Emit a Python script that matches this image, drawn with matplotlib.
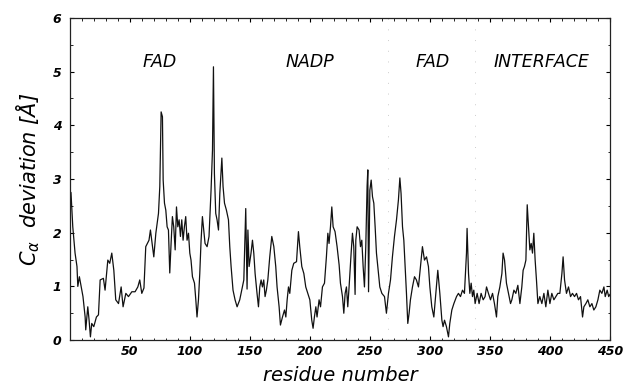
import matplotlib
matplotlib.use("Agg")
import matplotlib.pyplot as plt
from matplotlib.ticker import MultipleLocator

# residue numbers / C-alpha deviations (one line = 10 points)
residue_a = [0, 1, 2.5, 4.4, 6, 6.7, 8, 9.7, 11, 12.8,
             13.3, 15, 16.1, 17.2, 18.3, 20, 22.2, 23.9, 25.3, 28,
             29.4, 31.7, 33.3, 35, 36.7, 38.3, 40.6, 42.8, 44.4, 46.7,
             48.9, 51.7, 54.4, 56.7, 58.3, 60, 61.8, 63.3, 66, 67.2,
             70, 71.7, 73.9, 75, 76.1, 77.2, 77.8, 78.9, 80, 81.1,
             82.2, 83.3, 84.4, 85.5, 86.6, 87.8, 88.9, 90, 91.1, 92.2,
             93.3, 94.4, 95.5, 96.6, 97.7, 98.9, 100, 101, 102.2, 103.9,
             105, 106, 107.2, 108.3, 109.4, 110.5, 111.6, 112.7, 114.4, 116]
deviation_a = [2.5, 2.75, 2.11, 1.62, 1.37, 1.0, 1.18, 0.97, 0.81, 0.43,
               0.19, 0.62, 0.37, 0.06, 0.31, 0.25, 0.43, 0.47, 1.12, 1.15,
               0.93, 1.49, 1.43, 1.62, 1.30, 0.75, 0.68, 0.99, 0.62, 0.87,
               0.81, 0.9, 0.9, 0.99, 1.12, 0.87, 0.97, 1.74, 1.86, 2.05,
               1.55, 1.99, 2.36, 2.86, 4.25, 4.16, 2.98, 2.55, 2.42, 2.11,
               2.05, 1.25, 1.80, 2.30, 2.11, 1.68, 2.48, 2.11, 2.24, 1.93,
               2.24, 1.86, 2.11, 2.30, 1.86, 1.99, 1.62, 1.49, 1.18, 1.06,
               0.75, 0.43, 0.75, 1.24, 1.86, 2.30, 2.05, 1.80, 1.74, 1.93]

residue_b = [117.7, 118.9, 119.7, 120.5, 121.6, 122.7, 123.9, 125, 126.7, 127.7,
             128.9, 130.5, 132.2, 133.3, 134.4, 136, 137.7, 139.4, 141.6, 143.3,
             145, 146.6, 147.7, 148.4, 149.4, 151, 152.2, 153.3, 154.4, 156,
             157.2, 158.3, 159.4, 160.5, 161.6, 162.7, 163.8, 165, 166.6, 168.3,
             170, 171.6, 172.7, 174.4, 175.5, 177.2, 178.9, 180, 181.1, 182.2,
             183.3, 185, 186.6, 188.9, 190.5, 191.6, 193.3, 195, 196.6, 198.3,
             200, 201.6, 202.7, 203.8, 205, 206, 207.7, 208.9, 210.5, 212.2,
             213.8, 215, 216, 217.2, 218.3, 219.4, 221, 222.7, 224.4, 225.5]
deviation_b = [2.79, 3.54, 5.09, 3.1, 2.36, 2.24, 2.05, 2.73, 3.39, 2.86,
               2.55, 2.42, 2.24, 1.74, 1.37, 0.93, 0.75, 0.62, 0.75, 0.93,
               1.12, 2.45, 0.95, 2.05, 1.37, 1.62, 1.86, 1.62, 1.24, 0.87,
               0.62, 0.99, 1.12, 0.99, 1.12, 0.81, 0.93, 1.12, 1.55, 1.93,
               1.74, 1.37, 0.99, 0.62, 0.28, 0.43, 0.56, 0.43, 0.75, 0.99,
               0.87, 1.30, 1.43, 1.46, 2.02, 1.74, 1.37, 1.24, 0.99, 0.87,
               0.75, 0.37, 0.22, 0.43, 0.62, 0.43, 0.75, 0.62, 0.99, 1.06,
               1.55, 1.99, 1.80, 2.11, 2.48, 2.11, 2.02, 1.74, 1.40, 1.06]

residue_c = [227.2, 228.3, 229.4, 230.5, 231.6, 232.7, 234.4, 235.5, 236.6, 237.7,
             238.3, 239.4, 241, 242.2, 243.3, 244.4, 245.5, 246.6, 247.7, 248.3,
             248.9, 250, 251.1, 252.2, 253.3, 254.4, 255.5, 256.6, 258.3, 260,
             262.2, 263.8, 265.5, 267.2, 268.8, 270.5, 272.2, 273.8, 275, 276,
             277.2, 278.3, 279.4, 280.5, 281.6, 282.7, 283.8, 285.5, 287.2, 288.8,
             290.5, 292.2, 293.8, 295.5, 297.2, 298.8, 300, 301.6, 303.3, 305,
             306.6, 308.3, 310, 311, 312.2, 313.8, 315.5, 316.6, 318.3, 320]
deviation_c = [0.81, 0.50, 0.87, 0.99, 0.62, 0.99, 1.62, 1.99, 1.74, 0.85,
               1.86, 2.11, 2.05, 1.74, 1.86, 1.37, 0.99, 1.74, 2.86, 3.17,
               0.9, 2.79, 2.98, 2.67, 2.55, 2.11, 1.62, 1.37, 0.99, 0.87,
               0.81, 0.5, 0.87, 1.12, 1.55, 1.93, 2.24, 2.61, 3.02, 2.73,
               2.11, 1.86, 1.37, 0.87, 0.31, 0.50, 0.75, 0.99, 1.18, 1.12,
               0.99, 1.37, 1.74, 1.49, 1.55, 1.37, 0.99, 0.62, 0.43, 0.87,
               1.30, 0.87, 0.37, 0.25, 0.37, 0.25, 0.06, 0.31, 0.56, 0.68]

residue_d = [322.2, 323.8, 325.5, 327.2, 328.8, 330.5, 331, 332.2, 333.3, 334.4,
             335.5, 336.6, 337.7, 339.4, 341, 342.7, 344.4, 346, 347.2, 348.8,
             350.5, 352.2, 353.8, 355.5, 356.6, 358.3, 360, 361, 362.2, 363.8,
             365.5, 367.2, 368.3, 370, 371.6, 373.3, 375, 376.6, 377.7, 378.8,
             380, 381.1, 382.2, 383.3, 384.4, 385.5, 386.6, 387.7, 388.8, 390,
             391.6, 393.3, 395, 396.6, 398.3, 400, 401.6, 403.3, 405, 406.6,
             408.3, 410, 411, 412.2, 413.8, 415.5, 417.2, 418.8, 420.5, 422.2,
             423.8, 425.5, 427.2, 428.3, 430, 431.6, 433.3, 435, 436.6, 438.3,
             440, 441.6, 443.3, 445, 446.1, 447.7, 449, 450]
deviation_d = [0.81, 0.87, 0.81, 0.93, 0.87, 1.62, 2.08, 1.24, 0.87, 1.06,
               0.81, 0.93, 0.68, 0.87, 0.68, 0.87, 0.75, 0.81, 0.99, 0.87,
               0.75, 0.87, 0.68, 0.43, 0.81, 0.99, 1.24, 1.62, 1.49, 1.06,
               0.87, 0.68, 0.75, 0.93, 0.87, 1.02, 0.68, 0.99, 1.30, 1.37,
               1.49, 2.52, 2.11, 1.68, 1.80, 1.62, 1.99, 1.49, 1.12, 0.68,
               0.81, 0.68, 0.87, 0.62, 0.93, 0.68, 0.87, 0.75, 0.81, 0.87,
               0.87, 1.24, 1.55, 1.12, 0.87, 0.99, 0.81, 0.87, 0.81, 0.87,
               0.75, 0.81, 0.43, 0.62, 0.68, 0.75, 0.62, 0.68, 0.56, 0.62,
               0.75, 0.93, 0.87, 0.99, 0.81, 0.93, 0.81, 0.85]

region_labels = ["FAD", "NADP", "FAD", "INTERFACE"]
region_centers = [75, 200, 302, 393]
boundaries = [265, 337.5]
x_ticks = [50, 100, 150, 200, 250, 300, 350, 400, 450]
y_ticks = [0, 1, 2, 3, 4, 5, 6]

residue = residue_a + residue_b + residue_c + residue_d
deviation = deviation_a + deviation_b + deviation_c + deviation_d

fig = plt.figure(figsize=(6.23, 3.9), dpi=100)
ax = fig.add_axes([0.112, 0.128, 0.867, 0.826])

for b in boundaries:
    ax.axvline(b, color="#cccccc", linestyle=(0, (1, 10)), linewidth=0.7, zorder=0)

ax.plot(residue, deviation, color="#111111", linewidth=0.9)

ax.set_xlim(0, 450)
ax.set_ylim(0, 6)
ax.set_xticks(x_ticks)
ax.set_yticks(y_ticks)
ax.xaxis.set_minor_locator(MultipleLocator(10))
ax.yaxis.set_minor_locator(MultipleLocator(0.5))
ax.tick_params(which="both", direction="in", top=True, right=True)
ax.tick_params(which="major", length=3, width=0.8)
ax.tick_params(which="minor", length=1.8, width=0.6)
for lab in ax.get_xticklabels() + ax.get_yticklabels():
    lab.set_fontstyle("italic")
    lab.set_fontweight("semibold")
    lab.set_fontsize(9)
ax.tick_params(axis="y", pad=6)
for s in ax.spines.values():
    s.set_linewidth(0.9)
    s.set_color("#222222")

for lab, c in zip(region_labels, region_centers):
    ax.text(c, 5.18, lab, ha="center", va="center", fontsize=12.5, fontstyle="italic")

ax.set_xlabel("residue number", fontsize=14, fontstyle="italic", labelpad=6)
ax.set_ylabel(r"$C_{\alpha}$  deviation [Å]", fontsize=15, fontstyle="italic", labelpad=8)

fig.savefig("out.png", dpi=100)
